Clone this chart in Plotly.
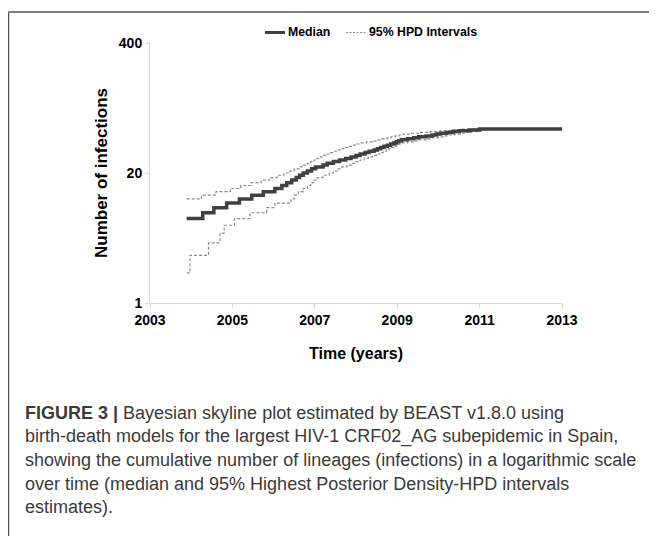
import plotly.graph_objects as go

# ---- data ----
median_t = [2003.89, 2004.28, 2004.55, 2004.86, 2005.17, 2005.47, 2005.75, 2006.03,
            2006.20, 2006.32, 2006.44, 2006.55, 2006.63, 2006.72, 2006.82, 2006.92,
            2007.02, 2007.20, 2007.30, 2007.45, 2007.60, 2007.75, 2007.88, 2008.00,
            2008.10, 2008.22, 2008.32, 2008.44, 2008.52, 2008.60, 2008.68, 2008.76,
            2008.84, 2008.92, 2008.98, 2009.04, 2009.10, 2009.25, 2009.40, 2009.52,
            2009.70, 2009.85, 2009.95, 2010.05, 2010.20, 2010.35, 2010.50, 2010.75,
            2011.00, 2013.00]
median_v = [7, 8, 9, 10, 11, 12, 13, 14,
            15, 16, 17, 18, 19, 20, 21, 22,
            23, 24, 25, 26, 27, 28, 29, 30,
            31, 32, 33, 34, 35, 36, 37, 38,
            39, 40, 41, 42, 43, 44, 45, 46,
            47, 48, 49, 50, 51, 52, 53, 54,
            55, 55]

upper_t = [2003.89, 2004.25, 2004.60, 2004.95, 2005.20, 2005.45, 2005.70, 2005.90,
           2006.08, 2006.25, 2006.40, 2006.50, 2006.62, 2006.72, 2006.82, 2006.90,
           2006.98, 2007.06, 2007.14, 2007.22, 2007.30, 2007.38, 2007.46, 2007.55,
           2007.62, 2007.72, 2007.82, 2007.92, 2008.02, 2008.12, 2008.25, 2008.40,
           2008.52, 2008.62, 2008.75, 2008.85, 2008.95, 2009.05, 2009.15, 2009.35,
           2009.55, 2009.80, 2010.04, 2010.30, 2010.55, 2013.00]
upper_v = [11, 12, 13, 14, 15, 16, 17, 18,
           19, 20, 21, 22, 23, 24, 25, 26,
           27, 28, 29, 30, 31, 32, 33, 34,
           35, 36, 37, 38, 39, 40, 41, 42,
           43, 44, 45, 46, 47, 48, 49, 50,
           51, 52, 53, 54, 55, 55]

lower_t = [2003.89, 2003.97, 2004.42, 2004.70, 2004.80, 2005.05, 2005.43, 2005.83,
           2006.03, 2006.42, 2006.50, 2006.60, 2006.72, 2006.82, 2006.90, 2006.98,
           2007.06, 2007.20, 2007.35, 2007.45, 2007.55, 2007.65, 2007.78, 2007.90,
           2008.00, 2008.10, 2008.20, 2008.30, 2008.40, 2008.50, 2008.58, 2008.66,
           2008.74, 2008.80, 2008.86, 2008.92, 2008.98, 2009.04, 2009.12, 2009.25,
           2009.40, 2009.52, 2009.70, 2009.85, 2010.00, 2010.12, 2010.25, 2010.40,
           2010.55, 2010.65, 2010.80, 2010.95, 2011.05, 2011.17, 2013.00]
lower_v = [2, 3, 4, 5, 6, 7, 8, 9,
           10, 11, 12, 13, 14, 15, 16, 17,
           18, 19, 20, 21, 22, 23, 24, 25,
           26, 27, 28, 29, 30, 31, 32, 33,
           34, 35, 36, 37, 38, 39, 40, 41,
           42, 43, 44, 45, 46, 47, 48, 49,
           50, 51, 52, 53, 54, 55, 55]

x_ticks = [2003, 2005, 2007, 2009, 2011, 2013]
y_ticks = [1, 20, 400]
y_tick_labels = ["1", "20", "400"]

caption_lines = [
    "<b>FIGURE 3 |</b> Bayesian skyline plot estimated by BEAST v1.8.0 using",
    "birth-death models for the largest HIV-1 CRF02_AG subepidemic in Spain,",
    "showing the cumulative number of lineages (infections) in a logarithmic scale",
    "over time (median and 95% Highest Posterior Density-HPD intervals",
    "estimates).",
]

# ---- layout geometry (page has an 8px body margin) ----
OFF = 8
W, H = 657 - OFF, 536 - OFF
L, R, T, B = 150 - OFF, 95, 43 - OFF, 233
PW, PH = W - L - R, H - T - B

def px(x):  # page x -> paper
    return (x - OFF - L) / PW

def py(y):  # page y -> paper
    return (H - B - (y - OFF)) / PH

fig = go.Figure()

fig.add_trace(go.Scatter(x=upper_t, y=upper_v, mode="lines", line_shape="hv",
                         line=dict(color="#8a8a8a", width=1.2, dash="3px,2px"),
                         name="95% HPD Intervals", showlegend=False))
fig.add_trace(go.Scatter(x=lower_t, y=lower_v, mode="lines", line_shape="hv",
                         line=dict(color="#8a8a8a", width=1.2, dash="3px,2px"),
                         name="95% HPD Intervals", showlegend=False))
fig.add_trace(go.Scatter(x=median_t, y=median_v, mode="lines", line_shape="hv",
                         line=dict(color="#404040", width=3.5),
                         name="Median", showlegend=False))

tick_font = dict(family="Liberation Sans, Arial, sans-serif", size=14, color="black", weight="bold")
fig.update_xaxes(range=[2003, 2013], tickvals=x_ticks, ticktext=[str(v) for v in x_ticks],
                 showgrid=False, zeroline=False, showline=True, linecolor="#d9d9d9",
                 linewidth=1, ticks="outside", ticklen=4, tickcolor="#d9d9d9",
                 tickfont=tick_font,
                 title=dict(text="<b>Time (years)</b>", standoff=21,
                            font=dict(family="Liberation Sans, Arial, sans-serif", size=16, color="black")))
fig.update_yaxes(type="log", range=[0, 2.60206], tickvals=y_ticks, ticktext=y_tick_labels,
                 showgrid=False, zeroline=False, showline=True, linecolor="#d9d9d9",
                 linewidth=1, ticks="outside", ticklen=4, tickcolor="#d9d9d9",
                 tickfont=tick_font,
                 title=dict(text="<b>Number of infections</b>", standoff=6,
                            font=dict(family="Liberation Sans, Arial, sans-serif", size=17, color="black")))

shapes = []
# outer frame (left and top)
shapes.append(dict(type="line", xref="paper", yref="paper", x0=px(8.5), x1=px(8.5), y0=py(12), y1=py(545),
                   line=dict(color="#555555", width=1.5)))
shapes.append(dict(type="line", xref="paper", yref="paper", x0=px(8.5), x1=px(670), y0=py(12), y1=py(12),
                   line=dict(color="#555555", width=1.5)))
# custom legend samples
ly = 32.5
shapes.append(dict(type="line", xref="paper", yref="paper", x0=px(265), x1=px(285), y0=py(ly), y1=py(ly),
                   line=dict(color="#404040", width=3)))
shapes.append(dict(type="line", xref="paper", yref="paper", x0=px(346), x1=px(367), y0=py(ly), y1=py(ly),
                   line=dict(color="#8a8a8a", width=1, dash="2px,1.5px")))

annotations = []
leg_font = dict(family="Liberation Sans, Arial, sans-serif", size=12.3, color="black")
annotations.append(dict(xref="paper", yref="paper", x=px(285.5), y=py(ly), xanchor="left", yanchor="middle",
                        text="<b>Median</b>", showarrow=False, font=leg_font))
annotations.append(dict(xref="paper", yref="paper", x=px(366.5), y=py(ly), xanchor="left", yanchor="middle",
                        text="<b>95% HPD Intervals</b>", showarrow=False, font=leg_font))

cap_font = dict(family="Liberation Sans, Arial, sans-serif", size=18, color="#3a3a3a")
cap_y = [413.3, 436.7, 460.0, 483.5, 507.0]
for t, yc in zip(caption_lines, cap_y):
    annotations.append(dict(xref="paper", yref="paper", x=px(23), y=py(yc), xanchor="left", yanchor="middle",
                            text=t, showarrow=False, font=cap_font, align="left"))

fig.update_layout(width=W, height=H, margin=dict(l=L, r=R, t=T, b=B),
                  paper_bgcolor="white", plot_bgcolor="white",
                  showlegend=False, shapes=shapes, annotations=annotations)

fig.write_html("out.html")
